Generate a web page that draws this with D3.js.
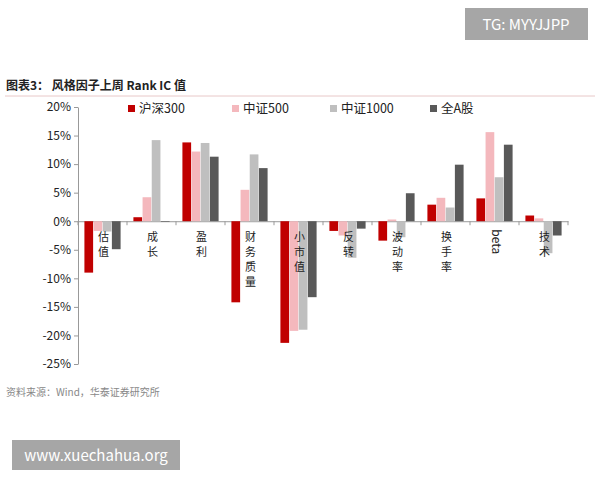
<!DOCTYPE html><html><head><meta charset="utf-8"><script src="https://d3js.org/d3.v7.min.js"></script>
<style>body{margin:0;background:#fff}text{font-family:"Noto Sans CJK SC","Liberation Sans",sans-serif}</style></head><body><svg id="c" width="600" height="480"></svg>
<script>
const categories=["估值","成长","盈利","财务质量","小市值","反转","波动率","换手率","beta","技术"];
const seriesNames=["沪深300","中证500","中证1000","全A股"];
const colors=["#c00000","#f4b8bd","#bfbfbf","#595959"];
const hs300=[-9.0,0.7,13.8,-14.2,-21.3,-1.7,-3.4,2.9,4.0,1.0];
const zz500=[-1.7,4.2,12.2,5.5,-19.2,-2.5,0.3,4.1,15.6,0.5];
const zz1000=[-1.8,14.2,13.7,11.7,-19.0,-6.4,-2.8,2.4,7.7,-5.6];
const quanA=[-4.9,-0.1,11.3,9.3,-13.3,-1.3,4.9,9.9,13.4,-2.5];
const yTicks=[20,15,10,5,0,-5,-10,-15,-20,-25];
const series=[hs300,zz500,zz1000,quanA];
const svg=d3.select("#c");
svg.append("rect").attr("x",465).attr("y",8).attr("width",123).attr("height",32).attr("fill","#a6a6a6");
svg.append("text").attr("x",526).attr("y",30).attr("text-anchor","middle").attr("fill","#fff").attr("font-size",15).text("TG: MYYJJPP");
svg.append("text").attr("x",6).attr("y",90).attr("font-size",12).attr("font-weight","bold").attr("fill","#222").text("图表3：  风格因子上周 Rank IC 值");
svg.append("line").attr("x1",5).attr("x2",595).attr("y1",96).attr("y2",96).attr("stroke","#e8c8c8");
const L=78,R=568;
const y=d3.scaleLinear().domain([-25,20]).range([364,107]);
const x=d3.scaleBand().domain(categories).range([L,R]);
const xs=d3.scaleBand().domain(d3.range(4)).range([0,x.bandwidth()]).paddingInner(0.05).paddingOuter(0.7);
const ax=svg.append("g").attr("transform",`translate(${L},0)`).call(d3.axisLeft(y).tickValues(yTicks).tickFormat(d=>d+"%").tickSize(4).tickSizeOuter(0));
ax.selectAll("text").attr("font-size",12).attr("fill","#222").attr("font-family","Liberation Sans");
ax.selectAll("line,path").attr("stroke","#999");
const xa=svg.append("g").attr("transform",`translate(0,${y(0)})`).call(d3.axisBottom(x).tickValues([]).tickSizeOuter(0));
xa.select("path").attr("stroke","#999");
categories.forEach((c,i)=>{svg.append("line").attr("x1",x(c)).attr("x2",x(c)).attr("y1",y(0)).attr("y2",y(0)+4).attr("stroke","#999");});
svg.append("line").attr("x1",R).attr("x2",R).attr("y1",y(0)).attr("y2",y(0)+4).attr("stroke","#999");
series.forEach((s,k)=>{
 svg.append("g").selectAll("rect").data(s).join("rect")
 .attr("x",(d,i)=>x(categories[i])+xs(k)).attr("width",xs.bandwidth())
 .attr("y",d=>y(Math.max(0,d))).attr("height",d=>Math.abs(y(d)-y(0))).attr("fill",colors[k]);
});
categories.forEach(c=>{
 const cx=x(c)+x.bandwidth()/2+1;
 if(c==="beta"){svg.append("text").attr("transform",`translate(${cx-4},${y(0)+8}) rotate(90)`).attr("font-size",12).attr("fill","#222").attr("font-family","Liberation Sans").text(c);}
 else [...c].forEach((ch,j)=>svg.append("text").attr("x",cx).attr("y",y(0)+20+j*15).attr("text-anchor","middle").attr("font-size",11).attr("fill","#222").text(ch));
});
const lx=[128,232,330,430];
seriesNames.forEach((n,k)=>{
 svg.append("rect").attr("x",lx[k]).attr("y",105).attr("width",7).attr("height",7).attr("fill",colors[k]);
 svg.append("text").attr("x",lx[k]+11).attr("y",113).attr("font-size",12.5).attr("fill","#222").text(n);
});
svg.append("text").attr("x",6).attr("y",396).attr("font-size",10).attr("fill","#888").text("资料来源：Wind，华泰证券研究所");
svg.append("rect").attr("x",12).attr("y",440).attr("width",168).attr("height",30).attr("fill","#a6a6a6");
svg.append("text").attr("x",96).attr("y",461).attr("text-anchor","middle").attr("fill","#fff").attr("font-size",15).text("www.xuechahua.org");
</script></body></html>
